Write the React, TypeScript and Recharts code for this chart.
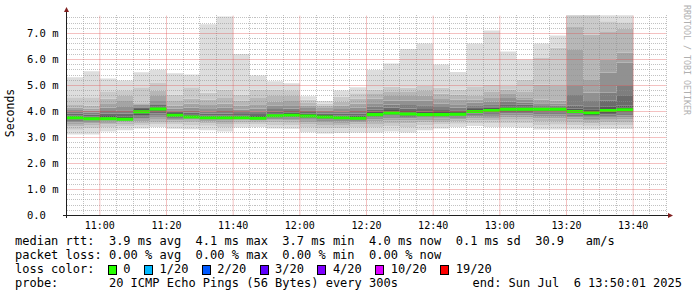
import { ComposedChart, Area, XAxis, YAxis, CartesianGrid, ReferenceLine } from "recharts";

// 5 minute slots, start time of each
const slotStarts = [
  "10:50", "10:55", "11:00", "11:05", "11:10", "11:15", "11:20", "11:25", "11:30", "11:35",
  "11:40", "11:45", "11:50", "11:55", "12:00", "12:05", "12:10", "12:15", "12:20", "12:25",
  "12:30", "12:35", "12:40", "12:45", "12:50", "12:55", "13:00", "13:05", "13:10", "13:15",
  "13:20", "13:25", "13:30", "13:35",
];

// median rtt per slot (ms)
const medians = [
  3.76, 3.72, 3.72, 3.70, 3.99, 4.10, 3.86, 3.79, 3.76, 3.76,
  3.76, 3.74, 3.84, 3.86, 3.83, 3.79, 3.76, 3.74, 3.88, 3.94,
  3.90, 3.88, 3.88, 3.89, 4.00, 4.04, 4.09, 4.09, 4.09, 4.09,
  4.00, 3.95, 4.04, 4.07,
];

// 20 sorted pings per slot (ms)
const pings: number[][] = [
  [3.12, 3.30, 3.42, 3.52, 3.58, 3.63, 3.68, 3.71, 3.74, 3.75, 3.77, 3.80, 3.85, 3.92, 3.99, 4.06, 4.14, 4.25, 4.55, 5.32],
  [3.12, 3.35, 3.48, 3.55, 3.60, 3.64, 3.67, 3.69, 3.71, 3.72, 3.73, 3.76, 3.81, 3.88, 3.95, 4.03, 4.12, 4.22, 4.55, 5.55],
  [3.23, 3.40, 3.50, 3.56, 3.61, 3.65, 3.68, 3.70, 3.71, 3.72, 3.73, 3.77, 3.83, 3.92, 4.02, 4.15, 4.32, 4.50, 4.78, 5.27],
  [3.28, 3.42, 3.52, 3.58, 3.62, 3.65, 3.67, 3.68, 3.69, 3.70, 3.71, 3.75, 3.82, 3.92, 4.05, 4.20, 4.40, 4.60, 4.82, 5.19],
  [3.35, 3.48, 3.56, 3.62, 3.68, 3.74, 3.80, 3.86, 3.92, 3.97, 4.01, 4.05, 4.10, 4.15, 4.20, 4.26, 4.30, 4.33, 4.93, 5.51],
  [3.40, 3.52, 3.60, 3.68, 3.76, 3.84, 3.92, 3.99, 4.05, 4.09, 4.11, 4.15, 4.20, 4.26, 4.32, 4.40, 4.60, 4.80, 5.10, 5.61],
  [3.34, 3.50, 3.60, 3.66, 3.71, 3.75, 3.79, 3.82, 3.84, 3.85, 3.87, 3.90, 3.94, 3.99, 4.05, 4.12, 4.22, 4.40, 4.65, 5.47],
  [3.32, 3.48, 3.58, 3.64, 3.69, 3.72, 3.74, 3.76, 3.77, 3.78, 3.80, 3.84, 3.89, 3.96, 4.05, 4.15, 4.30, 4.50, 4.93, 5.42],
  [3.28, 3.45, 3.55, 3.62, 3.67, 3.70, 3.72, 3.74, 3.75, 3.76, 3.77, 3.80, 3.85, 3.92, 4.00, 4.10, 4.25, 4.46, 4.72, 7.36],
  [3.23, 3.40, 3.52, 3.60, 3.66, 3.70, 3.72, 3.74, 3.75, 3.76, 3.77, 3.80, 3.85, 3.92, 4.02, 4.14, 4.30, 4.55, 4.85, 7.65],
  [3.38, 3.52, 3.60, 3.65, 3.69, 3.72, 3.74, 3.75, 3.76, 3.76, 3.77, 3.80, 3.84, 3.90, 3.98, 4.08, 4.22, 4.42, 4.65, 6.21],
  [3.40, 3.52, 3.60, 3.64, 3.67, 3.70, 3.72, 3.73, 3.74, 3.74, 3.75, 3.78, 3.83, 3.90, 4.00, 4.12, 4.28, 4.55, 4.85, 5.38],
  [3.35, 3.48, 3.58, 3.65, 3.70, 3.75, 3.78, 3.81, 3.83, 3.84, 3.85, 3.88, 3.93, 4.00, 4.10, 4.22, 4.38, 4.60, 4.85, 5.16],
  [3.34, 3.47, 3.57, 3.65, 3.71, 3.76, 3.80, 3.83, 3.85, 3.86, 3.87, 3.90, 3.95, 4.02, 4.12, 4.24, 4.40, 4.60, 4.82, 5.09],
  [3.20, 3.38, 3.50, 3.58, 3.64, 3.69, 3.73, 3.77, 3.80, 3.82, 3.84, 3.87, 3.92, 3.98, 4.05, 4.13, 4.22, 4.33, 4.45, 4.59],
  [3.15, 3.35, 3.48, 3.57, 3.63, 3.68, 3.72, 3.75, 3.77, 3.78, 3.80, 3.83, 3.87, 3.92, 3.98, 4.05, 4.13, 4.22, 4.30, 4.40],
  [3.17, 3.36, 3.48, 3.56, 3.62, 3.67, 3.70, 3.73, 3.75, 3.76, 3.77, 3.80, 3.85, 3.92, 4.00, 4.10, 4.22, 4.38, 4.58, 4.81],
  [3.19, 3.38, 3.50, 3.58, 3.63, 3.67, 3.70, 3.72, 3.73, 3.74, 3.75, 3.78, 3.84, 3.92, 4.02, 4.14, 4.30, 4.50, 4.70, 4.93],
  [3.19, 3.38, 3.52, 3.62, 3.70, 3.76, 3.80, 3.84, 3.86, 3.87, 3.89, 3.93, 3.99, 4.07, 4.18, 4.32, 4.50, 4.70, 4.85, 5.60],
  [3.23, 3.42, 3.56, 3.66, 3.74, 3.80, 3.85, 3.89, 3.92, 3.93, 3.95, 3.99, 4.06, 4.15, 4.27, 4.42, 4.60, 4.75, 4.95, 5.85],
  [3.19, 3.40, 3.55, 3.65, 3.73, 3.79, 3.83, 3.86, 3.88, 3.89, 3.91, 3.95, 4.02, 4.12, 4.25, 4.42, 4.60, 4.75, 4.92, 6.40],
  [3.28, 3.46, 3.58, 3.66, 3.72, 3.77, 3.81, 3.84, 3.86, 3.87, 3.89, 3.93, 4.00, 4.10, 4.24, 4.42, 4.62, 4.82, 5.00, 6.62],
  [3.35, 3.50, 3.60, 3.67, 3.73, 3.78, 3.82, 3.85, 3.87, 3.88, 3.89, 3.92, 3.98, 4.06, 4.17, 4.30, 4.48, 4.68, 4.92, 5.81],
  [3.40, 3.53, 3.62, 3.69, 3.75, 3.80, 3.84, 3.86, 3.88, 3.89, 3.90, 3.93, 3.98, 4.05, 4.15, 4.28, 4.45, 4.65, 4.85, 5.52],
  [3.44, 3.56, 3.66, 3.74, 3.81, 3.87, 3.92, 3.96, 3.98, 3.99, 4.01, 4.05, 4.10, 4.16, 4.24, 4.34, 4.45, 4.60, 4.97, 6.62],
  [3.40, 3.55, 3.66, 3.75, 3.83, 3.90, 3.95, 3.99, 4.02, 4.03, 4.05, 4.09, 4.14, 4.20, 4.28, 4.38, 4.52, 4.75, 5.04, 7.12],
  [3.40, 3.56, 3.68, 3.78, 3.86, 3.93, 3.98, 4.03, 4.06, 4.08, 4.10, 4.14, 4.20, 4.28, 4.38, 4.52, 4.70, 4.85, 5.00, 6.31],
  [3.38, 3.55, 3.68, 3.78, 3.86, 3.93, 3.98, 4.03, 4.06, 4.08, 4.10, 4.15, 4.20, 4.27, 4.35, 4.45, 4.55, 4.75, 5.23, 6.00],
  [3.31, 3.48, 3.63, 3.74, 3.82, 3.89, 3.95, 4.00, 4.04, 4.07, 4.10, 4.11, 4.13, 4.16, 4.21, 4.32, 4.46, 5.04, 6.06, 6.62],
  [3.31, 3.49, 3.63, 3.74, 3.82, 3.89, 3.95, 4.00, 4.04, 4.07, 4.10, 4.12, 4.14, 4.17, 4.22, 4.30, 4.41, 4.98, 6.45, 6.92],
  [3.31, 3.47, 3.60, 3.70, 3.77, 3.83, 3.88, 3.92, 3.96, 3.99, 4.02, 4.06, 4.12, 4.22, 4.63, 4.98, 6.39, 7.25, 7.90, 8.40],
  [3.31, 3.45, 3.55, 3.64, 3.71, 3.77, 3.82, 3.86, 3.90, 3.93, 3.97, 4.02, 4.09, 4.20, 4.40, 4.73, 5.24, 6.96, 7.90, 8.30],
  [3.33, 3.46, 3.58, 3.68, 3.76, 3.83, 3.89, 3.94, 3.98, 4.02, 4.06, 4.09, 4.20, 4.41, 4.73, 5.50, 6.00, 7.09, 7.47, 7.90],
  [3.33, 3.48, 3.60, 3.70, 3.78, 3.85, 3.91, 3.96, 4.01, 4.05, 4.09, 4.14, 4.22, 4.60, 4.98, 5.88, 6.26, 7.18, 7.43, 7.90],
];

const xTicks = [10, 30, 50, 70, 90, 110, 130, 150, 170];
const xTickLabels = ["11:00", "11:20", "11:40", "12:00", "12:20", "12:40", "13:00", "13:20", "13:40"];
const yTicks = [0, 1, 2, 3, 4, 5, 6, 7];
const yTickLabels = ["0.0\u00a0\u00a0", "1.0 m", "2.0 m", "3.0 m", "4.0 m", "5.0 m", "6.0 m", "7.0 m"];

const lossLegend = [
  { label: "0", color: "#26ff00" },
  { label: "1/20", color: "#00b8ff" },
  { label: "2/20", color: "#0059ff" },
  { label: "3/20", color: "#5e00ff" },
  { label: "4/20", color: "#7e00ff" },
  { label: "10/20", color: "#dd00ff" },
  { label: "19/20", color: "#ff0000" },
];

const statsLine = "median rtt:  3.9 ms avg  4.1 ms max  3.7 ms min  4.0 ms now  0.1 ms sd  30.9   am/s";
const lossLine = "packet loss: 0.00 % avg  0.00 % max  0.00 % min  0.00 % now";
const probeLine = "probe:       20 ICMP Echo Pings (56 Bytes) every 300s";
const endLine = "end: Sun Jul  6 13:50:01 2025";

const Y_MAX = 7.7;
const MED_HALF = 0.058;

const toMin = (s: string) => {
  const [h, m] = s.split(":").map(Number);
  return h * 60 + m - (10 * 60 + 50);
};

function rowFor(t: number, p: number[], med: number) {
  const row: Record<string, number> = { t, base: p[0], medLow: med - MED_HALF, medBand: MED_HALF * 2 };
  for (let k = 1; k < p.length; k++) row["b" + k] = p[k] - p[k - 1];
  return row;
}

const data = slotStarts.map((s, i) => rowFor(toMin(s), pings[i], medians[i]));
// close the last step at 13:40
data.push(rowFor(toMin("13:40"), pings[pings.length - 1], medians[medians.length - 1]));

// smokeping shading: darker towards the median
const shade = (k: number) => {
  const i = Math.min(k, 20 - k);
  const g = Math.floor((190 / 10) * (10 - i)) + 50;
  const h = g.toString(16).padStart(2, "0");
  return "#" + h + h + h;
};
const bands = Array.from({ length: 19 }, (_, i) => i + 1);

const minorX: number[] = [];
for (let m = 5; m <= 180; m += 5) if (!xTicks.includes(m)) minorX.push(m);
const minorY: number[] = [];
for (let v = 1; v <= 38; v++) if (v % 5 !== 0) minorY.push(v / 5);

const mono = "'DejaVu Sans Mono', monospace";
const MAJOR = "rgba(222,79,79,0.7)";

// plot box: 26 px per ms so whole ms land on pixel centres
const PLOT_TOP = 15.3;
const PLOT_BOTTOM = 215.5;

export default function App() {
  return (
    <div style={{ position: "absolute", left: 0, top: 0, width: 697, height: 297, background: "#fff", fontFamily: mono }}>
      <ComposedChart
        width={697}
        height={297}
        data={data}
        margin={{ top: PLOT_TOP, right: 30.5, bottom: 297 - PLOT_BOTTOM - 20, left: 6.5 }}
      >
        <XAxis
          type="number"
          dataKey="t"
          domain={[0, 180]}
          ticks={xTicks}
          tickFormatter={(v: number) => xTickLabels[xTicks.indexOf(v)]}
          tick={{ fontSize: 10, fill: "#000", fontFamily: mono }}
          tickLine={false}
          tickSize={0}
          tickMargin={6}
          height={20}
          axisLine={false}
        />
        <YAxis
          type="number"
          domain={[0, Y_MAX]}
          allowDataOverflow
          ticks={yTicks}
          tickFormatter={(v: number) => yTickLabels[yTicks.indexOf(v)]}
          tick={{ fontSize: 10.5, fill: "#000", fontFamily: mono }}
          tickLine={false}
          tickSize={0}
          tickMargin={8}
          width={60}
          axisLine={false}
        />
        <Area type="stepAfter" dataKey="base" stackId="smoke" stroke="none" fill="none" isAnimationActive={false} dot={false} activeDot={false} />
        {bands.map((k) => (
          <Area
            key={k}
            type="stepAfter"
            dataKey={"b" + k}
            stackId="smoke"
            stroke="none"
            fill={shade(k)}
            fillOpacity={1}
            isAnimationActive={false}
            dot={false}
            activeDot={false}
          />
        ))}
        <Area type="stepAfter" dataKey="medLow" stackId="med" stroke="none" fill="none" isAnimationActive={false} dot={false} activeDot={false} />
        <Area type="stepAfter" dataKey="medBand" stackId="med" stroke="none" fill="#26ff00" fillOpacity={1} isAnimationActive={false} dot={false} activeDot={false} />
        <CartesianGrid
          zIndex={600}
          horizontalValues={minorY}
          verticalValues={minorX}
          stroke="rgba(143,143,143,0.55)"
          strokeDasharray="1 1"
          shapeRendering="crispEdges"
        />
        {yTicks.slice(1).map((v) => (
          <ReferenceLine key={"y" + v} y={v} zIndex={700} stroke={MAJOR} strokeDasharray="1 1" />
        ))}
        {xTicks.map((v) => (
          <ReferenceLine key={"x" + v} x={v} zIndex={700} stroke={MAJOR} strokeDasharray="1 1" />
        ))}
      </ComposedChart>

      <svg width={697} height={297} style={{ position: "absolute", left: 0, top: 0, pointerEvents: "none" }}>
        <line x1={66.5} y1={218} x2={66.5} y2={10} stroke="#1f1f1f" />
        <line x1={63} y1={215.5} x2={670} y2={215.5} stroke="#1f1f1f" />
        <polygon points="64,12 69,12 66.5,7" fill="#801f1f" />
        <polygon points="668,213 668,218 673,215.5" fill="#801f1f" />
        <text x={14} y={113} transform="rotate(-90 14 113)" textAnchor="middle" fontSize={11.5} fontFamily={mono} fill="#000">
          Seconds
        </text>
        <text x={684} y={60} transform="rotate(90 684 60)" textAnchor="middle" fontSize={8.3} fontFamily={mono} fill="#b0b0b0">
          RRDTOOL / TOBI OETIKER
        </text>
      </svg>

      <div style={{ position: "absolute", left: 15, top: 234, fontSize: 12, lineHeight: "14px", whiteSpace: "pre", color: "#000" }}>
        <div>{statsLine}</div>
        <div>{lossLine}</div>
        <div>
          {"loss color:  "}
          {lossLegend.map((l) => (
            <span key={l.label}>
              <span style={{ display: "inline-block", width: "2ch", verticalAlign: "middle" }}>
                <span style={{ display: "block", width: 7, height: 8, marginLeft: -1, border: "1px solid #000", background: l.color }} />
              </span>
              {l.label + "  "}
            </span>
          ))}
        </div>
        <div>{probeLine}</div>
      </div>
      <div style={{ position: "absolute", right: 15, top: 276, fontSize: 12, lineHeight: "14px", whiteSpace: "pre", color: "#000" }}>
        {endLine}
      </div>
    </div>
  );
}
